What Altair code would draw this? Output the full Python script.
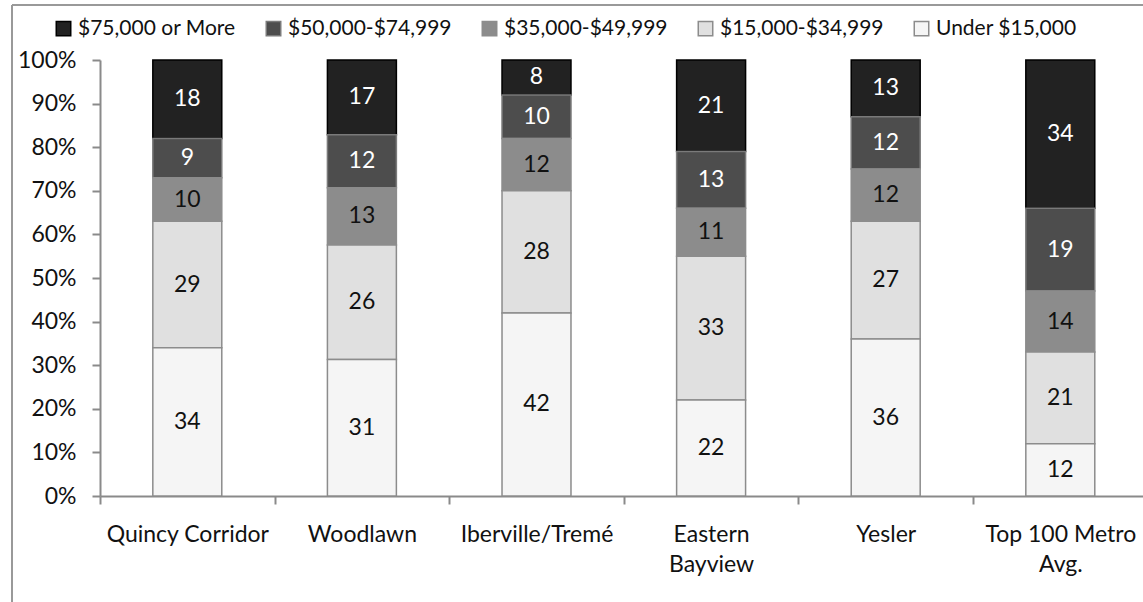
import altair as alt
import pandas as pd

categories = ["Quincy Corridor", "Woodlawn", "Iberville/Tremé", "Eastern Bayview", "Yesler", "Top 100 Metro Avg."]
brackets = ["$75,000 or More", "$50,000-$74,999", "$35,000-$49,999", "$15,000-$34,999", "Under $15,000"]

k75_plus = [18, 17, 8, 21, 13, 34]
k50_75 = [9, 12, 10, 13, 12, 19]
k35_50 = [10, 13, 12, 11, 12, 14]
k15_35 = [29, 26, 28, 33, 27, 21]
under_15k = [34, 31, 42, 22, 36, 12]

fills = ["#222222", "#4d4d4d", "#8c8c8c", "#e0e0e0", "#f5f5f5"]
strokes = ["#000000", "#7a7a7a", "#8c8c8c", "#8c8c8c", "#8c8c8c"]
text_colors = ["#ffffff", "#ffffff", "#111111", "#111111", "#111111"]

series = [k75_plus, k50_75, k35_50, k15_35, under_15k]
rows = []
for bi, (name, vals) in enumerate(zip(brackets, series)):
    for ci, cat in enumerate(categories):
        rows.append({"category": cat, "bracket": name, "value": vals[ci],
                     "order": len(brackets) - 1 - bi, "tcol": text_colors[bi]})
df = pd.DataFrame(rows)

FONT = "Lato"
GRAY = "#8a8a8a"
W, H = 1043, 436
STEP = 174.6

legend = alt.Legend(title=None, orient="none", direction="horizontal", legendX=-47, legendY=-42,
                    symbolType="square", symbolSize=210, symbolStrokeWidth=1.5,
                    labelFont=FONT, labelFontSize=21, labelColor="#111111", labelOffset=4,
                    labelLimit=400, columnPadding=27, padding=0, columns=5)

xenc = alt.X("category:N", sort=categories,
             scale=alt.Scale(range=[0, STEP * 6], paddingInner=0.605, paddingOuter=0.3025),
             axis=alt.Axis(title=None, labelAngle=0, domainColor=GRAY, domainWidth=2,
                           tickColor=GRAY, tickWidth=2, tickSize=8,
                           tickOffset=-STEP / 2, labelOffset=STEP / 2,
                           labelFont=FONT, labelFontSize=23, labelColor="#111111",
                           labelPadding=19, labelLineHeight=30, labelLimit=300,
                           labelExpr="datum.value == 'Eastern Bayview' ? ['Eastern', 'Bayview'] : datum.value == 'Top 100 Metro Avg.' ? ['Top 100 Metro', 'Avg.'] : datum.value"))

base = alt.Chart(df).transform_stack(
    stack="value", as_=["y0", "y1"], groupby=["category"],
    sort=[alt.SortField("order", order="ascending")], offset="normalize"
).transform_calculate(mid="(datum.y0 + datum.y1) / 2")

bars = base.mark_bar(strokeWidth=1.5).encode(
    x=xenc,
    y=alt.Y("y0:Q", scale=alt.Scale(domain=[0, 1]),
            axis=alt.Axis(title=None, values=[i / 10 for i in range(11)], format=".0%",
                          domainColor=GRAY, domainWidth=2, tickColor=GRAY, tickWidth=2, tickSize=8,
                          labelFont=FONT, labelFontSize=23, labelColor="#111111", labelPadding=16,
                          grid=False)),
    y2="y1:Q",
    fill=alt.Fill("bracket:N", scale=alt.Scale(domain=brackets, range=fills), legend=legend),
    stroke=alt.Stroke("bracket:N", scale=alt.Scale(domain=brackets, range=strokes), legend=legend),
)

labels = base.mark_text(font=FONT, fontSize=23, baseline="middle", align="center").encode(
    x=alt.X("category:N", sort=categories),
    y=alt.Y("mid:Q"),
    text=alt.Text("value:Q"),
    color=alt.Color("tcol:N", scale=None),
)

frame_data = alt.Data(values=[{"a": 1}])
left_line = alt.Chart(frame_data).mark_rule(color="#999999", strokeWidth=2).encode(
    x=alt.value(-88), y=alt.value(-55), y2=alt.value(H + 106))
top_line = alt.Chart(frame_data).mark_rule(color="#999999", strokeWidth=2).encode(
    x=alt.value(-88), x2=alt.value(W + 10), y=alt.value(-55))

chart = alt.layer(bars, labels, left_line, top_line).properties(
    width=W, height=H,
    autosize=alt.AutoSizeParams(type="none"),
    padding={"left": 100, "top": 60, "right": 0, "bottom": 106},
    background="white",
).configure_view(stroke=None)

chart.save("out.html", embed_options={"renderer": "svg", "actions": False})
